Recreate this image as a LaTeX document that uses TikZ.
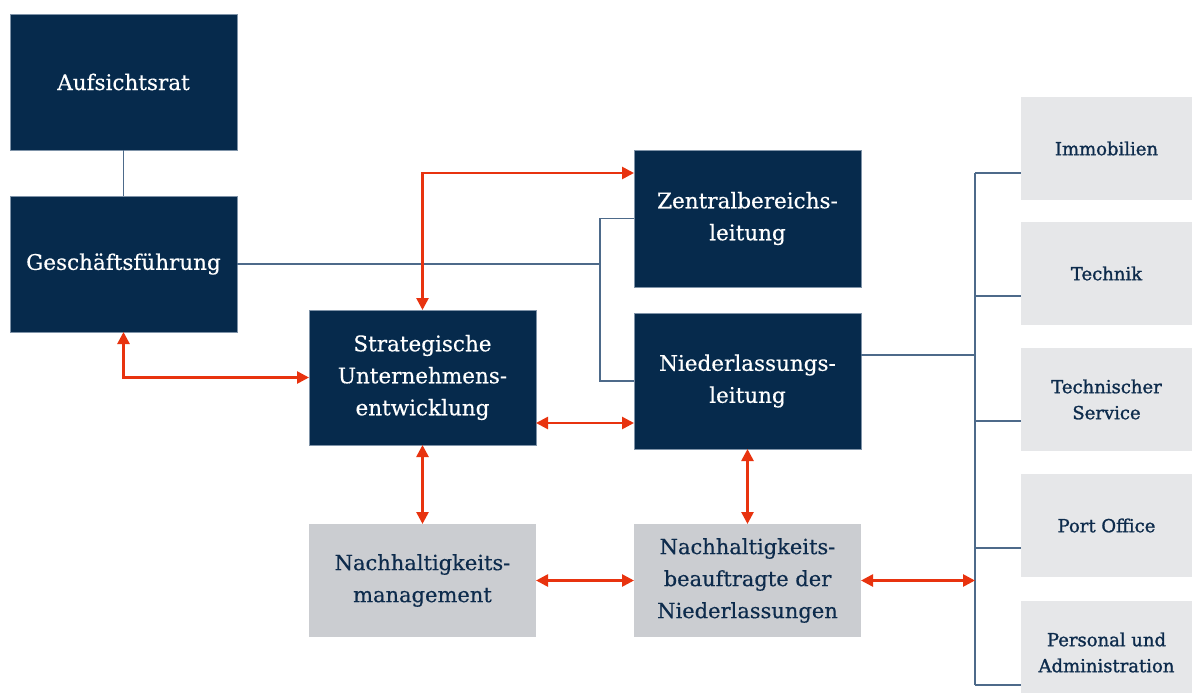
\documentclass[tikz,border=0pt]{standalone}
\usepackage{fontspec}
\setmainfont[FakeBold=0.4]{DejaVu Serif}
\newfontfamily\sidefont[FakeBold=1.3]{DejaVu Serif}
\usetikzlibrary{arrows.meta,calc}
\definecolor{navy}{HTML}{062A4C}
\definecolor{navyedge}{HTML}{7F93A8}
\definecolor{conn}{HTML}{4D6A8A}
\definecolor{redarr}{HTML}{E8330F}
\definecolor{midgray}{HTML}{CBCDD1}
\definecolor{lightgray}{HTML}{E6E7E9}
\definecolor{textnavy}{HTML}{0D2B4C}
\tikzset{
  darkbox/.style={rectangle, fill=navy, draw=navyedge, line width=0.6pt, minimum width=227pt, text=white, align=center, inner sep=0pt, outer sep=0pt, font=\fontsize{21.5}{32}\selectfont},
  graybox/.style={rectangle, fill=midgray, draw=none, minimum width=227pt, minimum height=113pt, text=textnavy, align=center, inner sep=0pt, outer sep=0pt, font=\fontsize{21}{32}\selectfont},
  sidebox/.style={rectangle, fill=lightgray, draw=none, minimum width=171pt, minimum height=103pt, text=textnavy, align=center, inner sep=0pt, outer sep=0pt, font=\sidefont\fontsize{18}{26}\selectfont},
  orgline/.style={draw=conn, line width=1.5pt},
  redline/.style={draw=redarr, line width=2.6pt, {Triangle[length=12pt,width=12pt]}-{Triangle[length=12pt,width=12pt]}},
}
\begin{document}
\begin{tikzpicture}[x=1pt,y=-1pt]
\useasboundingbox (0,0) rectangle (1192,693);
\fill[white] (0,0) rectangle (1192,693);
% dark boxes
\node[darkbox, minimum height=136pt] (auf) at (123.5,82) {Aufsichtsrat};
\node[darkbox, minimum height=136pt] (gf) at (123.5,264) {Geschäftsführung};
\node[darkbox, minimum height=135pt] (sue) at (422.5,377.5) {Strategische\\Unternehmens-\\entwicklung};
\node[darkbox, minimum height=137pt] (zbl) at (747.5,218.5) {Zentralbereichs-\\leitung};
\node[darkbox, minimum height=136pt] (nl) at (747.5,381) {Niederlassungs-\\leitung};
% gray boxes
\node[graybox] (nm) at (422.5,580.5) {Nachhaltigkeits-\\management};
\node[graybox] (nb) at (747.5,580.5) {Nachhaltigkeits-\\beauftragte der\\Niederlassungen};
% side boxes
\node[sidebox] (imm) at (1106.5,148.5) {Immobilien};
\node[sidebox] (tec) at (1106.5,273.5) {Technik};
\node[sidebox] (ts) at (1106.5,399.5) {Technischer\\Service};
\node[sidebox] (po) at (1106.5,525.5) {Port Office};
\node[sidebox] (pa) at (1106.5,652.5) {Personal und\\Administration};
% junction coordinates
\coordinate (jx) at (600,0);
\coordinate (bus) at (975,0);
\coordinate (b1) at ($(imm.north west)+(0,76)$);
\coordinate (b2) at ($(tec.north west)+(0,74)$);
\coordinate (b3) at ($(ts.north west)+(0,73)$);
\coordinate (b4) at ($(po.north west)+(0,74)$);
\coordinate (b5) at ($(pa.north west)+(0,84)$);
\coordinate (nlout) at ($(nl.east)+(0,-26)$);
% org lines
\draw[orgline] (auf.south) -- (gf.north);
\draw[orgline] (gf.east) -- (gf.east -| jx);
\draw[orgline] (zbl.west) -- (zbl.west -| jx) -- (nl.west -| jx) -- (nl.west);
\draw[orgline] (b1 -| bus) -- (b5 -| bus);
\draw[orgline] (nlout) -- (nlout -| bus);
\foreach \b in {b1,b2,b3,b4,b5} { \draw[orgline] (\b -| bus) -- (\b); }
% red arrows
\coordinate (zin) at ($(zbl.north west)+(0,23)$);
\coordinate (sr) at ($(sue.south east)+(0,-22)$);
\draw[redline] (gf.south) |- (sue.west);
\draw[redline] (sue.north) |- (zin);
\draw[redline] (sr) -- (sr -| nl.west);
\draw[redline] (sue.south) -- (nm.north);
\draw[redline] (nl.south) -- (nb.north);
\draw[redline] (nm.east) -- (nb.west);
\draw[redline] (nb.east) -- (nb.east -| bus);
\end{tikzpicture}
\end{document}
